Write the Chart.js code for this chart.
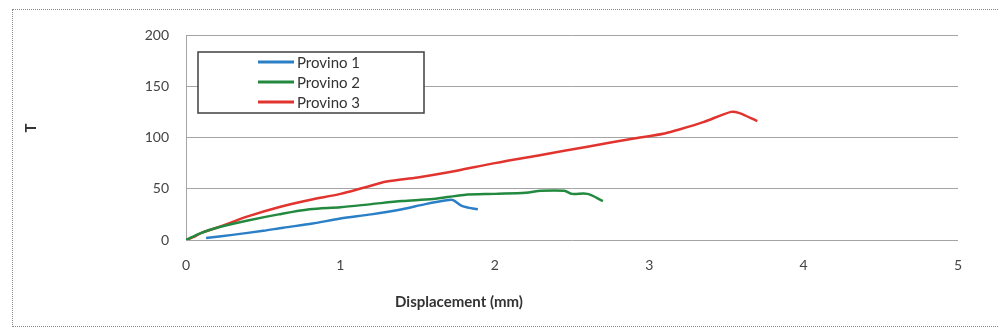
<!DOCTYPE html>
<html>
<head>
<meta charset="utf-8">
<script src="https://cdn.jsdelivr.net/npm/chart.js@4"></script>
<style>
  html, body { margin: 0; padding: 0; background: #fff; overflow: hidden; }
  #wrap { position: relative; width: 998px; height: 333px; overflow: hidden; }
  #frame { position: absolute; left: 12px; top: 9px; width: 1010px; height: 318px; border: 1px dotted #888; box-sizing: border-box; }
  canvas { position: absolute; left: 0; top: 0; }
</style>
</head>
<body>
<div id="wrap">
  <div id="frame"></div>
  <canvas id="chart" width="998" height="333"></canvas>
</div>
<script>
const seriesNames = ['Provino 1', 'Provino 2', 'Provino 3'];
const seriesColors = ['#2a7fc6', '#23893f', '#e2342f'];

// displacement (mm) / load pairs
const provino1X = [0.13, 0.3, 0.5, 0.63, 0.82, 1.0, 1.2, 1.4, 1.55, 1.7, 1.73, 1.79, 1.89];
const provino1Y = [2, 5, 9, 12, 16, 21, 25, 30, 35, 39, 39, 33, 30];

const provino2X = [0, 0.1, 0.2, 0.4, 0.6, 0.8, 1.0, 1.2, 1.4, 1.6, 1.8, 2.0, 2.2, 2.3, 2.45, 2.5, 2.6, 2.7];
const provino2Y = [0, 7, 12, 19, 25, 30, 32, 35, 38, 40, 44, 45, 46, 48, 48, 45, 45, 38];

const provino3X = [0, 0.05, 0.1, 0.2, 0.4, 0.6, 0.8, 1.0, 1.15, 1.3, 1.5, 1.7, 2.0, 2.3, 2.6, 2.9, 3.1, 3.2, 3.35, 3.53, 3.58, 3.7];
const provino3Y = [0, 3, 7, 12, 23, 32, 39, 45, 51, 57, 61, 66, 75, 83, 91, 99, 104, 108, 115, 125, 124, 116];

const xTicks = [0, 1, 2, 3, 4, 5];
const yTicks = [0, 50, 100, 150, 200];
const xTitle = 'Displacement (mm)';
const yTitle = 'T';

const toPoints = (xs, ys) => xs.map((x, i) => ({x: x, y: ys[i]}));
const allX = [provino1X, provino2X, provino3X];
const allY = [provino1Y, provino2Y, provino3Y];
const FONT = 'Lato, "Open Sans", sans-serif';

// boxed legend + axis titles placed like the original (off-centre)
const boxLegend = {
    id: 'boxLegend',
    afterDraw(chart) {
        const ctx = chart.ctx;
        const left = 198, top = 52, w = 226, h = 61;
        ctx.save();
        ctx.fillStyle = '#fff';
        ctx.fillRect(left, top, w, h);
        ctx.strokeStyle = '#404040';
        ctx.lineWidth = 1.5;
        ctx.strokeRect(left, top, w, h);
        ctx.font = '15px ' + FONT;
        ctx.textBaseline = 'middle';
        chart.data.datasets.forEach((ds, i) => {
            const y = 62 + i * 20;
            ctx.strokeStyle = ds.borderColor;
            ctx.lineWidth = 3;
            ctx.beginPath();
            ctx.moveTo(258, y);
            ctx.lineTo(294, y);
            ctx.stroke();
            ctx.fillStyle = '#333';
            ctx.fillText(ds.label, 297, y + 1);
        });

        ctx.fillStyle = '#333';
        ctx.font = 'bold 15px ' + FONT;
        ctx.textAlign = 'center';
        ctx.fillText(xTitle, 459, 302);
        ctx.translate(31, 128);
        ctx.rotate(-Math.PI / 2);
        ctx.fillText(yTitle, 0, 0);
        ctx.restore();
    }
};

const ctx = document.getElementById('chart').getContext('2d');
const chart = new Chart(ctx, {
    type: 'line',
    data: {
        datasets: seriesNames.map((name, i) => ({
            label: name,
            data: toPoints(allX[i], allY[i]),
            borderColor: seriesColors[i],
            backgroundColor: seriesColors[i],
            borderWidth: 2.5,
            pointRadius: 0,
            tension: 0.3,
            fill: false,
        }))
    },
    options:
    {
        responsive: false,
        animation: false,
        layout:
        {
            padding: {left: 12, top: 35, right: 40, bottom: 13}
        },
        plugins:
        {
            legend: {display: false},
            tooltip: {enabled: false},
        },
        scales:
        {
            x:
            {
                type: 'linear',
                min: 0,
                max: 5,
                afterBuildTicks: (axis) => { axis.ticks = xTicks.map(v => ({value: v})); },
                afterFit: (axis) => { axis.height = 80; },
                grid: {display: false, drawTicks: false},
                border: {display: false},
                ticks:
                {
                    padding: 17,
                    maxRotation: 0,
                    color: '#444',
                    font: {family: FONT, size: 14},
                },
            },
            y:
            {
                type: 'linear',
                min: 0,
                max: 200,
                afterBuildTicks: (axis) => { axis.ticks = yTicks.map(v => ({value: v})); },
                afterFit: (axis) => { axis.width = 174; },
                grid: {color: '#a4a4a4', lineWidth: 1, drawTicks: false},
                border: {display: true, color: '#a4a4a4', width: 1},
                ticks:
                {
                    padding: 17,
                    color: '#444',
                    font: {family: FONT, size: 14},
                },
            },
        },
    },
    plugins: [boxLegend]
});
</script>
</body>
</html>
